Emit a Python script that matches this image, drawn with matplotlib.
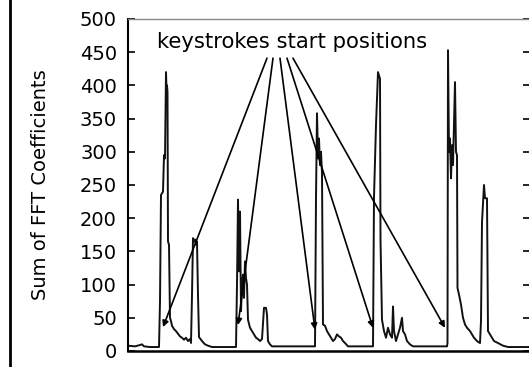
import matplotlib
matplotlib.use("Agg")
import numpy as np
from matplotlib import pyplot as plt
from matplotlib.lines import Line2D

# sample index vs. sum of FFT coefficients
sample = [0, 7, 12, 14, 16, 22, 31,
          32, 33, 35, 36, 37, 38, 38.5, 39, 39.5, 40, 41, 42, 43, 44, 46, 48, 50, 52, 54, 56, 58, 60, 62, 63,
          64, 65, 66, 67, 68, 69, 70, 71, 74, 77, 80, 84, 108,
          109, 110, 111, 112, 113, 114, 115, 116, 117, 118, 119, 120, 122, 124, 126, 128, 130, 132, 134, 136,
          138, 139, 140, 142, 144, 187,
          188, 189, 190, 191, 192, 193, 194, 195, 197, 199, 201, 203, 205, 207, 209, 211, 213, 215, 217, 220, 245,
          246, 248, 250, 251, 252, 252.5, 254, 256, 258, 260, 262, 264, 265, 266, 268, 270, 272, 274, 275, 277,
          279, 282, 285, 319,
          319.5, 320, 321, 322, 323, 324, 325, 327, 328, 329, 329.5, 331, 333, 335, 337, 339, 342, 344, 346, 349,
          352, 353, 354, 356, 357, 359, 360, 362, 366, 370, 375, 380, 401]
fft_sum = [8, 7, 9, 10, 7, 6, 6,
           74, 235, 240, 295, 290, 420, 395, 400, 390, 165, 160, 50, 45, 38, 33, 30, 26, 22, 20, 17, 20, 15, 18, 12,
           84, 170, 165, 168, 160, 165, 84, 21, 15, 10, 8, 6, 6,
           100, 228, 120, 210, 60, 100, 115, 80, 135, 110, 100, 47, 35, 30, 25, 20, 18, 15, 18, 65,
           65, 55, 15, 10, 7, 7,
           230, 358, 290, 320, 280, 300, 268, 40, 38, 30, 25, 20, 15, 18, 25, 22, 20, 15, 12, 7, 7,
           232, 340, 420, 415, 410, 167, 47, 30, 20, 35, 25, 20, 67, 30, 15, 25, 35, 50, 30, 25,
           15, 10, 7, 7,
           12, 453, 300, 320, 260, 310, 280, 405, 300, 295, 95, 85, 70, 50, 40, 35, 30, 25, 20, 15,
           12, 45, 194, 250, 230, 230, 30, 25, 15, 12, 8, 6, 6]

# arrow tips at the keystroke start positions, and where the arrows leave the label
key_starts = [35, 110, 187, 245, 317]
tip_values = [36, 39, 32, 35, 35]
tail_x = [139, 145, 152, 159, 165]
tail_y = 441
label_xy = (164, 465)

fig = plt.figure(figsize=(5.29, 3.67), dpi=100)
ax = fig.add_axes([128 / 529, 1 - 351 / 367, 402 / 529, 332 / 367])

ax.plot(sample, fft_sum, color="#111111", lw=1.4)

for kx, kv, tx in zip(key_starts, tip_values, tail_x):
    ax.annotate("", xy=(kx, kv), xytext=(tx, tail_y),
                arrowprops=dict(arrowstyle="-|>", color="black", lw=1.2,
                                mutation_scale=9, shrinkA=0, shrinkB=0))
ax.text(label_xy[0], label_xy[1], "keystrokes start positions",
        ha="center", va="center", fontsize=15.2)

ax.set_xlim(0, 402)
ax.set_ylim(0, 500)
ax.set_yticks(np.arange(0, 501, 50))
ax.set_xticks([])
ax.tick_params(axis="y", direction="in", length=5, width=1.2, right=True,
               labelsize=14, pad=8)
ax.set_ylabel("Sum of FFT Coefficients", fontsize=14)
ax.yaxis.set_label_coords(-0.195, 0.5)
ax.spines["top"].set_color("#888888")
ax.spines["top"].set_linewidth(1.0)
ax.spines["left"].set_linewidth(1.5)
ax.spines["bottom"].set_linewidth(1.8)

# outer frame line on the left edge
fig.add_artist(Line2D([10 / 529, 10 / 529], [0, 1], color="black", lw=2))

fig.savefig("out.png", dpi=100)
